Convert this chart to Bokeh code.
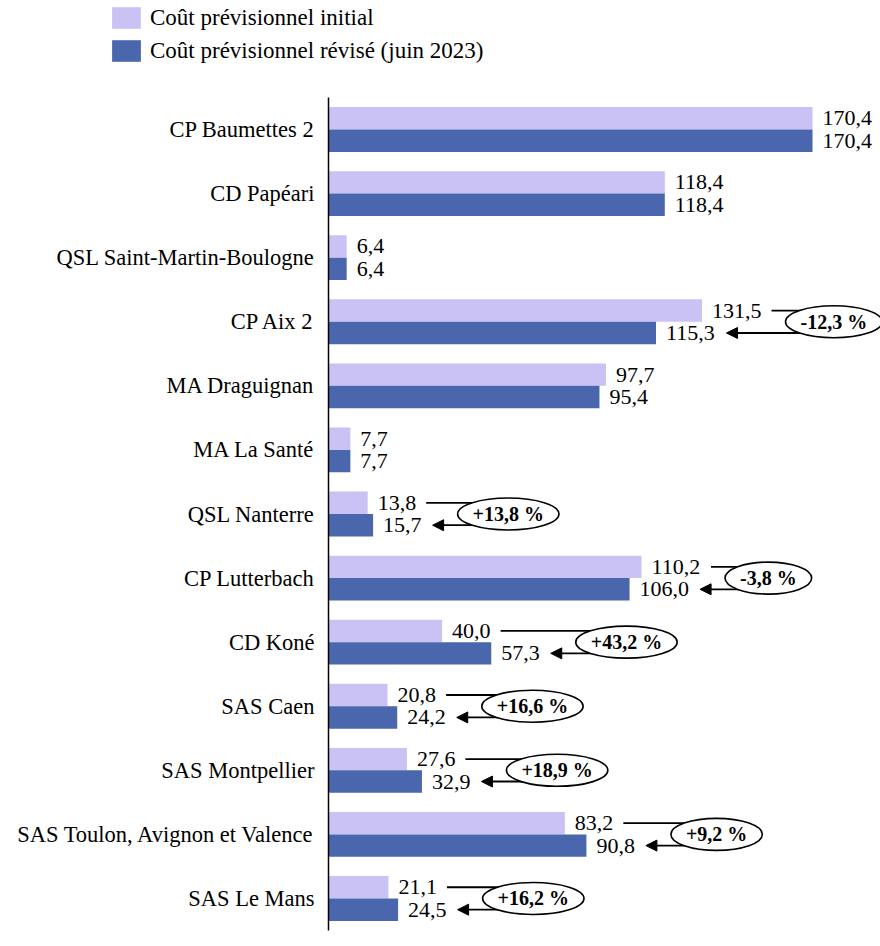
from bokeh.plotting import figure
from bokeh.layouts import column
from bokeh.models import (ColumnDataSource, FixedTicker, Legend, LegendItem, Arrow, NormalHead, Range1d)
from bokeh.core.properties import value
from bokeh.embed import file_html
from bokeh.resources import INLINE

categories = ["CP Baumettes 2", "CD Papéari", "QSL Saint-Martin-Boulogne", "CP Aix 2",
              "MA Draguignan", "MA La Santé", "QSL Nanterre", "CP Lutterbach", "CD Koné",
              "SAS Caen", "SAS Montpellier", "SAS Toulon, Avignon et Valence", "SAS Le Mans"]
initial = [170.4, 118.4, 6.4, 131.5, 97.7, 7.7, 13.8, 110.2, 40.0, 20.8, 27.6, 83.2, 21.1]
revised = [170.4, 118.4, 6.4, 115.3, 95.4, 7.7, 15.7, 106.0, 57.3, 24.2, 32.9, 90.8, 24.5]
pct_labels = ["", "", "", "-12,3 %", "", "", "+13,8 %", "-3,8 %", "+43,2 %",
              "+16,6 %", "+18,9 %", "+9,2 %", "+16,2 %"]
series_names = ["Coût prévisionnel initial", "Coût prévisionnel révisé (juin 2023)"]

LIGHT = "#cac2f4"
DARK = "#4a66ad"
FONT = "Liberation Serif"

W = 880
LEG_H = 97
LEFT, BOTTOM = 328, 10
FRAME_H = 833
H = FRAME_H + BOTTOM
XMAX = 194.34
PX = (W - LEFT) / XMAX  # pixels per data unit

n = len(categories)
ys = [n - 1 - i for i in range(n)]
off = 0.175

def fmt(v):
    return f"{v:.1f}".replace(".", ",")

def tw(s, size=22.0):
    w = 0.0
    for ch in s:
        if ch.isdigit():
            w += 0.5
        elif ch in ", ":
            w += 0.25
        elif ch == "+":
            w += 0.57
        elif ch == "-":
            w += 0.333
        elif ch == "%":
            w += 1.0
        else:
            w += 0.5
    return w * size

p = figure(width=W, height=H, output_backend="svg", toolbar_location=None,
           x_range=Range1d(0, XMAX), y_range=Range1d(-0.5, n - 0.5),
           x_axis_location=None, min_border_left=LEFT, min_border_right=0,
           min_border_top=0, min_border_bottom=BOTTOM)
p.outline_line_color = None
p.grid.visible = False
p.frame_align = False

src = ColumnDataSource(dict(
    y1=[y + off for y in ys], y2=[y - off for y in ys],
    v1=initial, v2=revised,
    l1=[fmt(v) for v in initial], l2=[fmt(v) for v in revised]))

p.hbar(y="y1", left=0, right="v1", height=0.35, fill_color=LIGHT, line_color=None, source=src)
p.hbar(y="y2", left=0, right="v2", height=0.35, fill_color=DARK, line_color=None, source=src)

p.text(x="v1", y="y1", text="l1", x_offset=10, text_baseline="middle", text_align="left",
       text_font=value(FONT), text_font_size="22px", text_color="black", source=src)
p.text(x="v2", y="y2", text="l2", x_offset=10, text_baseline="middle", text_align="left",
       text_font=value(FONT), text_font_size="22px", text_color="black", source=src)

# annotations
ax, ay, bx, by, ex, ey, ew, et = [], [], [], [], [], [], [], []
for i in range(n):
    if not pct_labels[i]:
        continue
    v1, v2, y = initial[i], revised[i], ys[i]
    end1 = v1 * PX + 10 + tw(fmt(v1))
    end2 = v2 * PX + 10 + tw(fmt(v2))
    w_e = tw(pct_labels[i], 20) + 30
    gap = 36 if v2 > v1 else 24
    cx = max(end1, end2) + gap + w_e / 2
    ex.append(cx / PX); ey.append(y); ew.append(w_e); et.append(pct_labels[i])
    ax.append((end1 + 10) / PX); ay.append(y + off)
    bx.append((end2 + 11) / PX); by.append(y - off)

lsrc = ColumnDataSource(dict(x0=ax, y0=ay, x1=ex, y1=ay))
p.segment(x0="x0", y0="y0", x1="x1", y1="y1", line_color="black", line_width=1.8, source=lsrc)
asrc = ColumnDataSource(dict(xs=ex, ys=by, xe=bx, ye=by))
arr = Arrow(x_start="xs", y_start="ys", x_end="xe", y_end="ye", source=asrc,
            line_color="black", line_width=1.8,
            end=NormalHead(size=11, fill_color="black", line_color="black"))
arr.level = "underlay"
p.add_layout(arr)

esrc = ColumnDataSource(dict(x=ex, y=ey, w=ew, t=et))
p.ellipse(x="x", y="y", width="w", height=32, width_units="screen", height_units="screen",
          fill_color="white", line_color="black", line_width=1.6, source=esrc)
p.text(x="x", y="y", text="t", text_align="center", text_baseline="middle",
       text_font=value(FONT), text_font_size="20px", text_font_style="bold",
       text_color="black", source=esrc)

# y axis
ax_y = p.yaxis[0]
ax_y.ticker = FixedTicker(ticks=ys)
ax_y.major_label_overrides = {y: c for y, c in zip(ys, categories)}
ax_y.major_tick_line_color = None
ax_y.minor_tick_line_color = None
ax_y.axis_line_color = "black"
ax_y.axis_line_width = 1.5
ax_y.major_label_standoff = 8
ax_y.major_label_text_font = FONT
ax_y.major_label_text_font_size = "22.5px"
ax_y.major_label_text_color = "black"

# legend figure
lf = figure(width=W, height=LEG_H, output_backend="svg", toolbar_location=None,
            x_range=Range1d(0, 1), y_range=Range1d(0, 1),
            x_axis_location=None, y_axis_location=None,
            min_border_left=0, min_border_right=0, min_border_top=0, min_border_bottom=0)
lf.outline_line_color = None
lf.grid.visible = False
lf.frame_align = False
dummy = ColumnDataSource(dict(y=[-10], r=[1]))
g1 = lf.hbar(y="y", right="r", height=0.1, fill_color=LIGHT, line_color=None, source=dummy)
g2 = lf.hbar(y="y", right="r", height=0.1, fill_color=DARK, line_color=None, source=dummy)
legend = Legend(items=[LegendItem(label=series_names[0], renderers=[g1]),
                       LegendItem(label=series_names[1], renderers=[g2])],
                location=(108, 33), orientation="vertical",
                glyph_width=36, glyph_height=27, label_height=27, label_standoff=6,
                spacing=6, padding=0, margin=0, border_line_color=None,
                background_fill_alpha=0, label_text_font=FONT,
                label_text_font_size="23px", label_text_color="black")
lf.add_layout(legend)

layout = column(lf, p, spacing=0)
open("out.html", "w").write(file_html(layout, INLINE))
